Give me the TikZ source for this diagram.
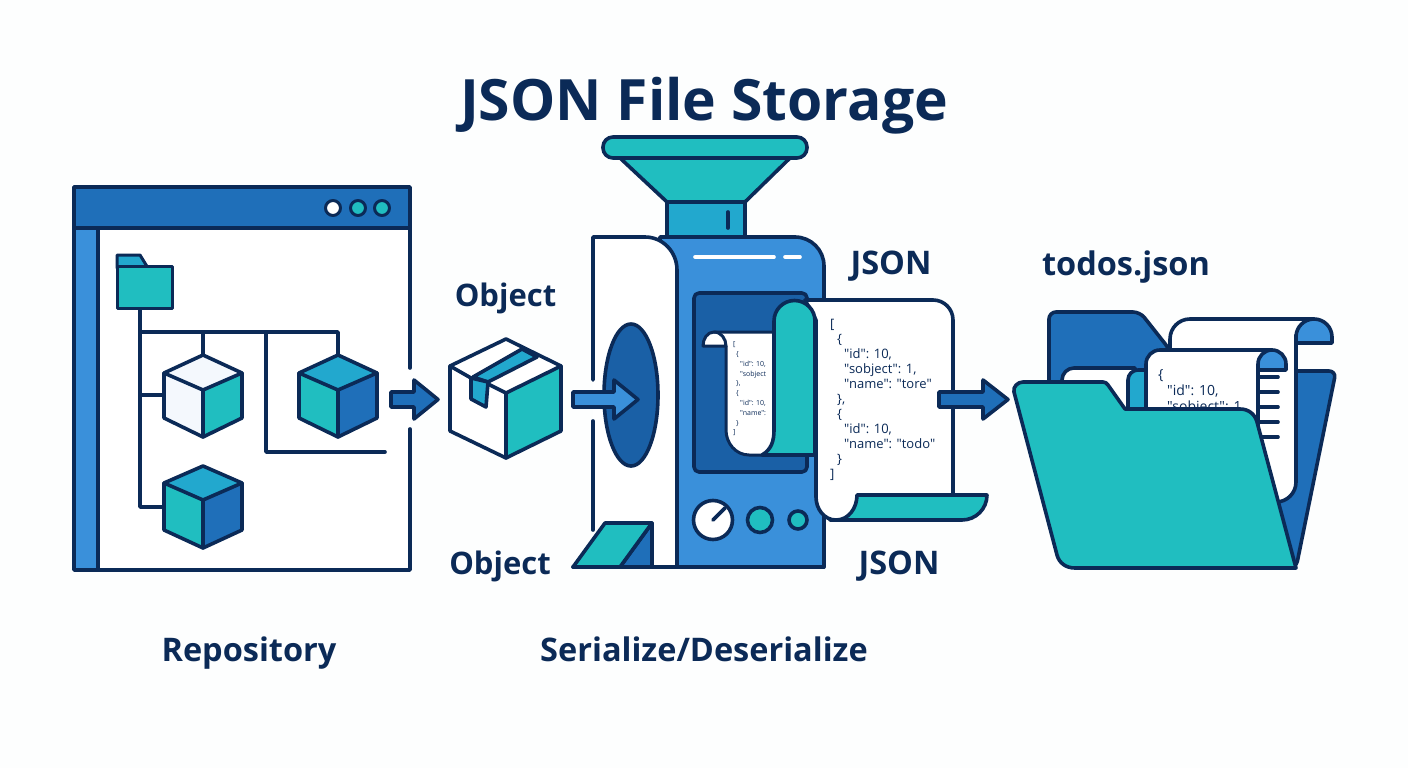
\documentclass[tikz,border=0pt]{standalone}
\usepackage{fontspec}
\setmainfont{Open Sans}
\newfontfamily\codefont{Open Sans}
\definecolor{navy}{HTML}{0B2A57}
\definecolor{teal1}{HTML}{20BEC0}
\definecolor{blue1}{HTML}{1F6FB9}
\definecolor{blue2}{HTML}{3A90DA}
\definecolor{blue3}{HTML}{1A60A6}
\definecolor{cyan1}{HTML}{22A8CE}
\definecolor{pale}{HTML}{F4F8FD}
\definecolor{bg}{HTML}{FDFEFE}
\tikzset{
  ln/.style={draw=navy,line width=3.6pt,line join=round,line cap=round},
  thin ln/.style={draw=navy,line width=3pt,line join=round,line cap=round},
  label/.style={text=navy,font=\fontsize{32.5}{36}\selectfont\bfseries,inner sep=0pt},
  code/.style={text=navy,inner sep=0pt,anchor=north west,align=left},
  fat/.style={ln,fill=#1}
}
% centre x, top y, upper y, lower y, bottom y, top colour, left colour, right colour
\newcommand{\cubeicon}[8]{%
  \fill[#6] (#1,#2)--(#1+39,#3)--(#1,#3+17)--(#1-39,#3)--cycle;
  \fill[#7] (#1-39,#3)--(#1,#3+17)--(#1,#5)--(#1-39,#4)--cycle;
  \fill[#8] (#1+39,#3)--(#1,#3+17)--(#1,#5)--(#1+39,#4)--cycle;
  \draw[ln] (#1,#2)--(#1+39,#3)--(#1+39,#4)--(#1,#5)--(#1-39,#4)--(#1-39,#3)--cycle;
  \draw[ln] (#1-39,#3)--(#1,#3+17)--(#1+39,#3) (#1,#3+17)--(#1,#5);
}
% block arrow: x start, x head base, x tip, colour
\newcommand{\blockarrow}[4]{%
  \draw[fat=#4] (#1,392)--(#2,392)--(#2,380)--(#3,399.5)--(#2,419)--(#2,407)--(#1,407)--cycle;
}
\begin{document}
\begin{tikzpicture}[x=1pt,y=-1pt]
\useasboundingbox (0,0) rectangle (1408,768);
\fill[bg] (0,0) rectangle (1408,768);

% ---------- titles
\node[text=navy,font=\fontsize{57}{60}\selectfont\bfseries,inner sep=0pt] (title) at (704,106) {JSON File Storage};
\node[label,font=\fontsize{31}{36}\selectfont\bfseries] (lobj1) at (505.5,298) {Object};
\node[label,font=\fontsize{31}{36}\selectfont\bfseries] (lobj2) at (500,566) {Object};
\node[label] (ljson1) at (891,266.5) {JSON};
\node[label] (ljson2) at (899,566.5) {JSON};
\node[label] (ltodos) at (1126,267) {todos.json};
\node[label] (lrepo) at (249,653) {Repository};
\node[label] (lser) at (704,649.5) {Serialize/Deserialize};

% ---------- repository window
\fill[white] (74,187) rectangle (410,570);
\draw[fat=blue2] (74,228) rectangle (98,570);
\draw[fat=blue1] (74,187) rectangle (410,228);
\draw[ln] (98,570)--(410,570)--(410,429);
\draw[ln] (410,368)--(410,228);
\draw[thin ln,fill=white] (333,208) circle (7.5);
\draw[thin ln,fill=teal1] (358,208) circle (7.5);
\draw[thin ln,fill=teal1] (382,208) circle (7.5);

% tree
\coordinate (froot) at (140,308);
\coordinate (fa) at (140,332);
\coordinate (fb) at (140,395);
\coordinate (fc) at (140,507);
\coordinate (c1) at (164,395);
\coordinate (c3) at (164,507);
\coordinate (ta) at (203,332);
\coordinate (tb) at (203,355);
\coordinate (tc) at (266,332);
\coordinate (td) at (266,452);
\coordinate (te) at (385,452);
\coordinate (tf) at (338,332);
\coordinate (tg) at (338,355);
\draw[ln] (froot)--(fc)--(c3) (fb)--(c1) (fa)--(tf)--(tg) (ta)--(tb) (tc)--(td)--(te);

% folder icon
\draw[thin ln,fill=cyan1] (117,268)--(117,255)--(140,255)--(148,268)--cycle;
\draw[thin ln,fill=teal1] (117,266) rectangle (172,308);

% cubes
\cubeicon{203}{355}{373}{418}{437}{pale}{pale}{teal1}
\cubeicon{338}{355}{373}{418}{437}{cyan1}{teal1}{blue1}
\cubeicon{203}{466}{483}{530}{548}{cyan1}{teal1}{blue1}

\blockarrow{391}{414}{438}{blue1}

% ---------- parcel
\fill[white] (506,339)--(561,366)--(506,393)--(450,366)--cycle;
\fill[white] (450,366)--(506,393)--(506,458)--(450,431)--cycle;
\fill[teal1] (561,366)--(506,393)--(506,458)--(561,431)--cycle;
\draw[ln,fill=cyan1] (473,377)--(522,349)--(537,357)--(488,382)--cycle;
\draw[ln,fill=cyan1] (471,378)--(488,382)--(486,407)--(471,399)--cycle;
\draw[ln] (506,339)--(561,366)--(561,431)--(506,458)--(450,431)--(450,366)--cycle;
\draw[ln] (450,366)--(471,378) (488,384)--(506,393)--(561,366) (506,393)--(506,458);

% ---------- machine
\draw[ln,fill=cyan1] (667,202) rectangle (745,237);
\draw[ln] (728,212)--(728,228);
\draw[ln,fill=teal1] (620,158)--(790,158)--(745,202)--(667,202)--cycle;
\draw[ln,fill=teal1,rounded corners=10pt] (603,137) rectangle (807,158);
% body
\draw[ln,fill=blue2] (660,237)--(795,237) to[out=0,in=90] (824,266)--(824,567)--(660,567)--cycle;
\draw[draw=white,line width=3.6pt,line cap=round] (695,257)--(774,257) (785,257)--(800,257);
% side panel
\fill[white] (593,237)--(645,237) to[out=0,in=90] (677,270)--(677,567)--(593,567)--cycle;
\draw[ln] (593,380)--(593,237)--(645,237) to[out=0,in=90] (677,270)--(677,567);
\draw[ln] (593,421)--(593,530);
\draw[ln,fill=blue3] (631,395) ellipse (27 and 71);
\blockarrow{573}{614}{638}{blue2}
% ramp
\draw[ln,fill=blue1] (652,523)--(652,567)--(620,567)--cycle;
\draw[ln,fill=teal1] (573,567)--(605,523)--(652,523)--(620,567)--cycle;
\draw[ln] (573,567)--(824,567);
% window
\draw[ln,fill=blue3,rounded corners=5pt] (694,293) rectangle (807,472);
% dial
\draw[ln,fill=white] (713,520) circle (19.5);
\draw[ln] (713,520)--(725,508);
\draw[ln,fill=teal1] (760,520) circle (12.5);
\draw[ln,fill=teal1] (798,520) circle (9);

% small paper
\fill[white] (716,332)--(776,332)--(776,455)--(749,455) to[out=180,in=270] (726,430)--(726,346)--cycle;
\draw[thin ln,fill=white] (703,346) to[out=90,in=180] (714,332) to[out=0,in=90] (726,346)--cycle;
\draw[thin ln] (714,332)--(776,332) (726,346)--(726,430) to[out=270,in=180] (749,455)--(780,455);
\node[code,font=\codefont\fontsize{7}{9.8}\selectfont] (smallcode) at (733,341.5) {[\\\hspace*{3pt}\{\\\hspace*{7pt}"id": 10,\\\hspace*{7pt}"sobject\\\hspace*{3pt}\},\\\hspace*{3pt}\{\\\hspace*{7pt}"id": 10,\\\hspace*{7pt}"name":\\\hspace*{3pt}\}\\{]}};

% big paper
\draw[ln,fill=teal1] (850,495)--(987,495) to[out=270,in=0] (962,520)--(830,520)--cycle;
\draw[ln,fill=white] (805,300)--(933,300) to[out=0,in=90] (953,320)--(953,495)--(857,495) to[out=270,in=0] (836,520) to[out=180,in=270] (816,497)--(816,320)--cycle;
\node[code,font=\codefont\fontsize{13}{15}\selectfont] (bigcode) at (830,319.5) {[\\\hspace*{7pt}\{\\\hspace*{14pt}"id": 10,\\\hspace*{14pt}"sobject": 1,\\\hspace*{14pt}"name": "tore"\\\hspace*{7pt}\},\\\hspace*{7pt}\{\\\hspace*{14pt}"id": 10,\\\hspace*{14pt}"name": "todo"\\\hspace*{7pt}\}\\{]}};
% teal fold
\draw[ln,fill=teal1] (815,321) arc[start angle=0,end angle=-180,radius=20.5]--(774,430) to[out=270,in=30] (762,455)--(815,455)--cycle;

\blockarrow{939}{983}{1008}{blue1}

% ---------- storage folder
\draw[ln,fill=blue1,rounded corners=7pt] (1049,400)--(1049,312)--(1140,312)--(1170,350)--(1170,371)--(1336,371)--(1296,568)--(1100,568)--cycle;
% rear paper
\fill[white] (1170,339) to[out=90,in=180] (1190,319)--(1296,319)--(1296,482) to[out=270,in=0] (1276,502)--(1170,502)--cycle;
\draw[ln] (1170,380)--(1170,339) to[out=90,in=180] (1190,319)--(1314,319) (1296,335)--(1296,482) to[out=270,in=0] (1276,502);
\draw[ln,fill=blue2] (1296,343)--(1296,337) to[out=90,in=180] (1314,319) to[out=0,in=90] (1332,337)--(1332,343)--cycle;
% hidden paper
\draw[ln,fill=white] (1062,420)--(1062,380) to[out=90,in=180] (1074,368)--(1135,368)--(1135,420)--cycle;
\draw[ln,fill=cyan1] (1128,420)--(1128,380) to[out=90,in=180] (1138,370)--(1150,370)--(1150,420)--cycle;
% front paper
\draw[ln,fill=white] (1146,430)--(1146,364) to[out=90,in=180] (1160,350)--(1272,350)--(1258,370)--(1258,450)--cycle;
\foreach \yy in {377,392,407,422,437}{
  \draw[ln] (1258,\yy)--(1278,\yy);
}
\draw[ln,fill=blue2] (1258,370)--(1258,364) to[out=90,in=180] (1272,350) to[out=0,in=90] (1286,364)--(1286,370)--cycle;
\node[code,font=\codefont\fontsize{14}{16}\selectfont] (foldercode) at (1158,369) {\{\\\hspace*{9pt}"id": 10,\\\hspace*{9pt}"sobject": 1};
% front folder
\draw[ln,fill=teal1] (1014,392) to[out=105,in=180] (1023,382)--(1103,382) to[out=0,in=127] (1108,385)--(1125,409)--(1240,409) to[out=0,in=105] (1257,422)--(1296,568)--(1075,568) to[out=180,in=-75] (1057,555)--cycle;
\end{tikzpicture}
\end{document}
